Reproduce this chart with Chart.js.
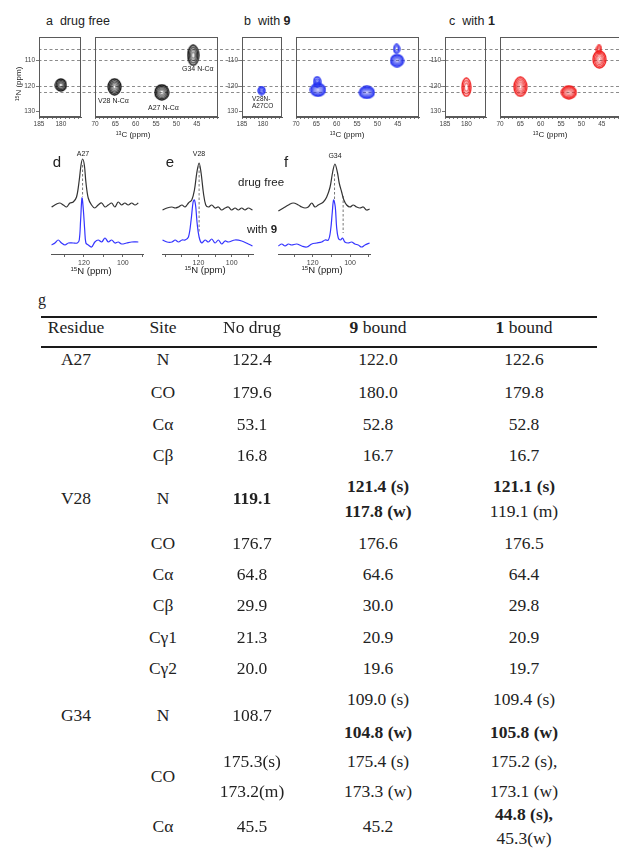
<!DOCTYPE html>
<html>
<head>
<meta charset="utf-8">
<script src="https://cdn.jsdelivr.net/npm/chart.js@4.4.1/dist/chart.umd.min.js"></script>
<style>
body { margin: 0; overflow: hidden; background: #fff; }
#fig { position: relative; width: 619px; height: 858px; overflow: hidden; font-family: "Liberation Sans", Arial, sans-serif; color: #222; }
#fig canvas { position: absolute; }
.t { position: absolute; white-space: nowrap; line-height: 1; transform: translate(-50%, -50%); }
.l { position: absolute; white-space: nowrap; line-height: 1; transform: translateY(-50%); }
.tab { font-family: "Liberation Serif", "Times New Roman", serif; font-size: 17.5px; color: #222; }
.rule { position: absolute; left: 41px; width: 556px; height: 2px; background: #1a1a1a; }
sup { font-size: 65%; vertical-align: 0; position: relative; top: -0.45em; }
</style>
</head>
<body>
<div id="fig">
  <!-- panel titles -->
  <div class="l" style="left:46px;top:21px;font-size:12.5px">a&nbsp; drug free</div>
  <div class="l" style="left:244px;top:21px;font-size:12.5px">b&nbsp; with <b>9</b></div>
  <div class="l" style="left:449px;top:21px;font-size:12.5px">c&nbsp; with <b>1</b></div>

  <canvas id="aL" width="68" height="101" style="left:20px;top:30px"></canvas>
  <canvas id="aR" width="137" height="101" style="left:88px;top:30px"></canvas>
  <canvas id="bL" width="66" height="101" style="left:223px;top:30px"></canvas>
  <canvas id="bR" width="137" height="101" style="left:289px;top:30px"></canvas>
  <canvas id="cL" width="67" height="101" style="left:426px;top:30px"></canvas>
  <canvas id="cR" width="137" height="101" style="left:493px;top:30px"></canvas>

  <div class="t" style="left:19px;top:84px;font-size:8px;transform:translate(-50%,-50%) rotate(-90deg)"><sup>15</sup>N (ppm)</div>
  <div class="t" style="left:133px;top:135px;font-size:8px"><sup>13</sup>C (ppm)</div>
  <div class="t" style="left:347px;top:135px;font-size:8px"><sup>13</sup>C (ppm)</div>
  <div class="t" style="left:550px;top:135px;font-size:8px"><sup>13</sup>C (ppm)</div>

  <div class="l" style="left:98px;top:100px;font-size:7px">V28 N-C&alpha;</div>
  <div class="l" style="left:148px;top:107px;font-size:7px">A27 N-C&alpha;</div>
  <div class="l" style="left:182px;top:68px;font-size:7px">G34 N-C&alpha;</div>
  <div class="l" style="left:252px;top:99px;font-size:6.5px">V28N-</div>
  <div class="l" style="left:252px;top:106px;font-size:6.5px">A27CO</div>

  <!-- 1D 15N slices -->
  <canvas id="d" width="98" height="123" style="left:48px;top:145px"></canvas>
  <canvas id="e" width="97" height="123" style="left:159px;top:145px"></canvas>
  <canvas id="f" width="98" height="123" style="left:275px;top:145px"></canvas>

  <div class="t" style="left:57px;top:161px;font-size:15px">d</div>
  <div class="t" style="left:170px;top:161px;font-size:15px">e</div>
  <div class="t" style="left:286px;top:161px;font-size:15px">f</div>
  <div class="t" style="left:83px;top:153px;font-size:7px">A27</div>
  <div class="t" style="left:199px;top:153px;font-size:7px">V28</div>
  <div class="t" style="left:335px;top:155px;font-size:7px">G34</div>
  <div class="l" style="left:238px;top:183px;font-size:11.5px">drug free</div>
  <div class="l" style="left:247px;top:230px;font-size:11.5px">with <b>9</b></div>
  <div class="t" style="left:91px;top:271px;font-size:9.5px"><sup>15</sup>N (ppm)</div>
  <div class="t" style="left:205px;top:270px;font-size:9.5px"><sup>15</sup>N (ppm)</div>
  <div class="t" style="left:322px;top:270px;font-size:9.5px"><sup>15</sup>N (ppm)</div>

  <!-- table g -->
  <div class="l tab" style="left:38px;top:300px;font-size:16px">g</div>
  <div class="rule" style="top:316px"></div>
  <div class="rule" style="top:346px"></div>
  <div id="tbl"></div>
</div>

<script>
// ---------- 2D N-C correlation spectra ----------
var coTickLabels = [185, 180];
var caTickLabels = [70, 65, 60, 55, 50, 45];
var nTickLabels = [110, 120, 130];
var dashN = [105.5, 109.7, 119.8, 122.2];

// peak centres, 13C ppm / 15N ppm
var aCoC = [180.0], aCoN = [119.6];
var aCaC = [65.2, 53.6, 45.9], aCaN = [120.3, 122.5, 107.9];
var bCoC = [180.3], bCoN = [121.8];
var bCaC = [64.6, 64.8, 52.6, 45.2, 45.3], bCaN = [121.5, 118.3, 122.5, 110.0, 105.4];
var cCoC = [180.0], cCoN = [120.5];
var cCaC = [65.0, 53.1, 45.6, 45.7], cCaN = [120.3, 122.5, 109.5, 105.6];

// contour footprint (px) for each peak above
var aCoSize = [[11, 12]], aCaSize = [[13, 16], [14, 15], [11, 20]];
var bCoSize = [[7, 8]], bCaSize = [[15, 13], [7, 10], [15, 12], [13, 12], [6, 9]];
var cCoSize = [[9, 18]], cCaSize = [[13, 19], [15, 13], [13, 17], [5, 8]];

// ---------- 1D 15N slices (ppm / intensity) ----------
var dTicks = [130, 120, 110, 100, 90], eTicks = [140, 130, 120, 110, 100, 90], fTicks = [130, 120, 110, 100, 90];
var specTickLabels = [120, 100];

var dFreePpm = [136.6, 134.0, 132.3, 130.6, 128.9, 127.2, 125.5, 123.8, 122.4, 121.5, 120.7, 119.8, 119.0, 117.8, 116.1, 114.4, 112.7, 110.9, 109.2, 107.5, 105.8, 104.1, 102.4, 100.7, 99.0, 97.3, 95.5, 93.8, 92.1];
var dFreeInt = [47, 50, 51, 49, 47, 51, 52, 57, 74, 89, 95, 89, 72, 56, 49, 46, 49, 51, 47, 49, 51, 47, 52, 49, 51, 49, 51, 49, 51];
var d9Ppm = [136.6, 134.9, 133.2, 131.5, 129.7, 128.0, 125.5, 123.4, 122.4, 121.7, 121.0, 120.3, 119.6, 119.0, 117.8, 116.1, 114.4, 112.7, 110.9, 109.2, 107.5, 105.8, 104.1, 102.4, 100.7, 98.1, 95.5, 92.1];
var d9Int = [9, 11, 14, 11, 9, 11, 11, 11, 14, 34, 56, 44, 24, 11, 9, 7, 12, 14, 12, 16, 12, 14, 11, 12, 10, 11, 12, 12];

var eFreePpm = [141.6, 138.9, 135.9, 134.0, 132.0, 129.9, 128.0, 126.0, 124.0, 122.4, 121.0, 119.6, 118.4, 117.0, 115.6, 114.0, 112.0, 110.0, 108.0, 106.0, 104.0, 102.0, 100.0, 98.0, 96.0, 94.0, 92.0, 90.0, 87.5];
var eFreeInt = [44, 46, 47, 46, 47, 49, 47, 51, 54, 64, 81, 91, 81, 61, 49, 47, 49, 46, 47, 44, 46, 47, 44, 46, 44, 46, 44, 46, 44];
var e9Ppm = [141.6, 138.9, 135.9, 134.0, 132.0, 129.9, 128.0, 126.0, 124.4, 123.2, 122.4, 121.6, 120.8, 119.6, 118.0, 116.0, 114.0, 112.0, 110.0, 108.0, 106.0, 104.0, 102.0, 98.0, 94.0, 90.0, 87.5];
var e9Int = [14, 12, 12, 14, 12, 14, 14, 17, 34, 52, 54, 47, 31, 17, 11, 14, 12, 15, 11, 14, 10, 13, 12, 14, 13, 10, 8];

var fFreePpm = [138.4, 135.7, 133.0, 130.4, 127.7, 125.9, 124.1, 122.4, 120.5, 118.8, 117.0, 114.3, 112.5, 110.7, 109.3, 108.1, 106.8, 105.8, 104.5, 103.3, 101.8, 100.0, 98.3, 96.5, 94.7, 92.9, 91.1, 89.5];
var fFreeInt = [43, 46, 49, 51, 49, 47, 46, 47, 51, 47, 49, 52, 57, 67, 82, 90, 82, 71, 62, 54, 49, 47, 49, 47, 46, 47, 44, 45];
var f9Ppm = [138.4, 136.6, 134.8, 133.0, 131.3, 128.6, 125.9, 123.2, 120.5, 117.9, 115.2, 113.4, 111.6, 110.4, 109.5, 108.8, 107.9, 107.2, 106.3, 105.1, 104.0, 102.8, 101.0, 99.2, 97.4, 95.6, 93.8, 92.0, 89.5];
var f9Int = [8, 10, 8, 10, 9, 10, 8, 7, 10, 11, 12, 14, 14, 24, 42, 54, 47, 27, 16, 14, 16, 12, 11, 12, 10, 9, 7, 9, 11];

// dashed guides linking the peaks
var dMarkPpm = [120.7], dMarkTop = [89], dMarkBot = [57];
var eMarkPpm = [119.6], eMarkTop = [88], eMarkBot = [22];
var fMarkPpm = [108.3, 103.7], fMarkTop = [80, 58], fMarkBot = [55, 21];

// ---------- table g ----------
var headers = ['Residue', 'Site', 'No drug', '<b>9</b> bound', '<b>1</b> bound'];
var residues = ['A27', '', '', '', 'V28', '', '', '', '', '', 'G34', '', ''];
var sites = ['N', 'CO', 'C\u03b1', 'C\u03b2', 'N', 'CO', 'C\u03b1', 'C\u03b2', 'C\u03b31', 'C\u03b32', 'N', 'CO', 'C\u03b1'];
var noDrug = [['122.4'], ['179.6'], ['53.1'], ['16.8'], ['*119.1'], ['176.7'], ['64.8'], ['29.9'], ['21.3'], ['20.0'], ['108.7'], ['175.3(s)', '173.2(m)'], ['45.5']];
var bound9 = [['122.0'], ['180.0'], ['52.8'], ['16.7'], ['*121.4 (s)', '*117.8 (w)'], ['176.6'], ['64.6'], ['30.0'], ['20.9'], ['19.6'], ['109.0 (s)', '*104.8 (w)'], ['175.4 (s)', '173.3 (w)'], ['45.2']];
var bound1 = [['122.6'], ['179.8'], ['52.8'], ['16.7'], ['*121.1 (s)', '119.1 (m)'], ['176.5'], ['64.4'], ['29.8'], ['20.9'], ['19.7'], ['109.4 (s)', '*105.8 (w)'], ['175.2 (s),', '173.1 (w)'], ['*44.8 (s),', '45.3(w)']];

// table layout
var colX = [76, 163, 252, 378, 524];
var headY = 328;
var rowY = [360, 393, 425, 456, 499, 544, 575, 606, 638, 669, 716, 777, 827];
var lineGap = [0, 0, 0, 0, 25, 0, 0, 0, 0, 0, 33, 30, 24];

Chart.defaults.font.family = '"Liberation Sans", Arial, sans-serif';
Chart.defaults.color = '#444';
Chart.defaults.animation = false;
Chart.defaults.events = [];

// stack of rings, dense at the rim and paler towards the centre
function contour(color, w, h) {
	var c = document.createElement('canvas');
	c.width = w + 2;
	c.height = h + 2;
	var g = c.getContext('2d');
	g.strokeStyle = color;
	g.lineWidth = 1.3;
	var step = 1.25, i = 0;
	while (w / 2 - i * step > 0.8) {
		var rx = w / 2 - i * step, ry = h / 2 - i * step * h / w;
		g.globalAlpha = Math.max(0.3, 1 - i * 0.14);
		g.beginPath();
		g.ellipse(c.width / 2, c.height / 2, rx, ry, 0, 0, 2 * Math.PI);
		g.stroke();
		i++;
	}
	return c;
}

var framePlugin = {
	id: 'frame',
	afterDraw: function(chart) {
		var a = chart.chartArea, x = chart.ctx;
		x.save();
		x.strokeStyle = '#5a5a5a';
		x.lineWidth = 1;
		x.strokeRect(Math.round(a.left) + 0.5, Math.round(a.top) + 0.5, Math.round(a.width) - 1, Math.round(a.height) - 1);
		x.restore();
	}
};

var guidePlugin = {
	id: 'guides',
	beforeDatasetsDraw: function(chart, args, opts) {
		var ctx = chart.ctx, ys = chart.scales.y;
		var x0 = opts.fromArea ? chart.chartArea.left : 0;
		ctx.save();
		ctx.strokeStyle = '#8c8c8c';
		ctx.lineWidth = 1;
		ctx.setLineDash([3, 2.5]);
		ctx.lineDashOffset = (chart.canvas.offsetLeft + x0) % 5.5;
		dashN.forEach(function(n) {
			var py = Math.round(ys.getPixelForValue(n)) + 0.5;
			ctx.beginPath();
			ctx.moveTo(x0, py);
			ctx.lineTo(chart.width, py);
			ctx.stroke();
		});
		ctx.restore();
	}
};

function minorTicks(lo, hi) {
	var out = [];
	for (var v = Math.ceil(lo); v <= hi; v++) out.push({ value: v });
	return out;
}

function box(id, xmin, xmax, labels, cs, ns, sizes, color, leftBox, padR, fromArea) {
	var pts = [], imgs = [];
	for (var i = 0; i < cs.length; i++) {
		pts.push({ x: cs[i], y: ns[i] });
		imgs.push(contour(color, sizes[i][0], sizes[i][1]));
	}
	return new Chart(document.getElementById(id), {
		type: 'scatter',
		data: { datasets: [{ data: pts, pointStyle: imgs, pointRadius: 6 }] },
		options: {
			responsive: false,
			devicePixelRatio: 1,
			layout: { padding: { left: 0, right: padR, top: 2, bottom: 0 } },
			plugins: { legend: { display: false }, tooltip: { enabled: false }, guides: { fromArea: fromArea } },
			scales: {
				x: {
					type: 'linear', min: xmin, max: xmax, reverse: true,
					afterBuildTicks: function(s) { s.ticks = minorTicks(xmin, xmax); },
					afterFit: function(s) { s.height = 14; s.paddingLeft = 0; s.paddingRight = 0; },
					ticks: {
						autoSkip: false, maxRotation: 0, padding: 1, color: '#444', font: { size: 6.5 },
						callback: function(v) { return labels.indexOf(v) >= 0 ? v : ''; }
					},
					grid: { drawOnChartArea: false, tickLength: 2, color: '#777' },
					border: { color: '#5a5a5a' }
				},
				y: {
					type: 'linear', min: 100.7, max: 132.2, reverse: true,
					afterBuildTicks: function(s) { s.ticks = nTickLabels.map(function(v) { return { value: v }; }); },
					afterFit: function(s) { s.width = leftBox ? 19 : 4; s.paddingTop = 0; s.paddingBottom = 0; },
					ticks: { display: leftBox, padding: 1, color: '#444', font: { size: 6.5 } },
					grid: { drawOnChartArea: false, drawTicks: leftBox, tickLength: 3, color: '#777' },
					border: { color: '#5a5a5a' }
				}
			}
		},
		plugins: [guidePlugin, framePlugin]
	});
}

box('aL', 175.4, 185, coTickLabels, aCoC, aCoN, aCoSize, '#151515', true, 5, true);
box('aR', 39.8, 70, caTickLabels, aCaC, aCaN, aCaSize, '#151515', false, 0, false);
box('bL', 175.4, 185, coTickLabels, bCoC, bCoN, bCoSize, '#1f2cf0', true, 2, false);
box('bR', 39.8, 70, caTickLabels, bCaC, bCaN, bCaSize, '#1f2cf0', false, 0, false);
box('cL', 175.4, 185, coTickLabels, cCoC, cCoN, cCoSize, '#f01c1c', true, 4, false);
box('cR', 39.8, 70, caTickLabels, cCaC, cCaN, cCaSize, '#f01c1c', false, 0, false);

function xy(xs, ys) {
	return xs.map(function(v, i) { return { x: v, y: ys[i] }; });
}

function spectrum(id, xmin, xmax, ticks, freePpm, freeInt, boundPpm, boundInt, markPpm, markTop, markBot) {
	var sets = [
		{ data: xy(freePpm, freeInt), borderColor: '#333', borderWidth: 1.2, tension: 0.35 },
		{ data: xy(boundPpm, boundInt), borderColor: '#3535ff', borderWidth: 1.2, tension: 0.35 }
	];
	markPpm.forEach(function(p, i) {
		sets.push({ data: [{ x: p, y: markTop[i] }, { x: p, y: markBot[i] }], borderColor: '#777', borderWidth: 1, borderDash: [2.5, 2] });
	});
	sets.forEach(function(s) { s.showLine = true; s.pointRadius = 0; s.clip = false; });
	return new Chart(document.getElementById(id), {
		type: 'scatter',
		data: { datasets: sets },
		options: {
			responsive: false,
			devicePixelRatio: 1,
			layout: { padding: { left: 3, right: 3, top: 0, bottom: 0 } },
			plugins: { legend: { display: false }, tooltip: { enabled: false } },
			scales: {
				x: {
					type: 'linear', min: xmin, max: xmax, reverse: true,
					afterBuildTicks: function(s) { s.ticks = ticks.map(function(v) { return { value: v }; }); },
					afterFit: function(s) { s.height = 14; s.paddingLeft = 0; s.paddingRight = 0; },
					ticks: {
						autoSkip: false, maxRotation: 0, padding: 2, color: '#444', font: { size: 7 },
						callback: function(v) { return specTickLabels.indexOf(v) >= 0 ? v : ''; }
					},
					grid: { drawOnChartArea: false, tickLength: 3, color: '#666' },
					border: { color: '#555' }
				},
				y: { display: false, min: 0, max: 109 }
			}
		}
	});
}

spectrum('d', 89.7, 136.9, dTicks, dFreePpm, dFreeInt, d9Ppm, d9Int, dMarkPpm, dMarkTop, dMarkBot);
spectrum('e', 87.2, 141.9, eTicks, eFreePpm, eFreeInt, e9Ppm, e9Int, eMarkPpm, eMarkTop, eMarkBot);
spectrum('f', 89.3, 138.6, fTicks, fFreePpm, fFreeInt, f9Ppm, f9Int, fMarkPpm, fMarkTop, fMarkBot);

// table
function cell(s) {
	return s.charAt(0) === '*' ? '<b>' + s.slice(1) + '</b>' : s;
}
var html = '';
function put(x, y, s) {
	html += '<div class="t tab" style="left:' + x + 'px;top:' + y + 'px">' + s + '</div>';
}
headers.forEach(function(h, i) { put(colX[i], headY, h); });
rowY.forEach(function(y, r) {
	if (residues[r]) put(colX[0], y, residues[r]);
	put(colX[1], y, sites[r]);
	[noDrug[r], bound9[r], bound1[r]].forEach(function(lines, c) {
		var y0 = y - lineGap[r] * (lines.length - 1) / 2;
		lines.forEach(function(s, j) { put(colX[c + 2], y0 + j * lineGap[r], cell(s)); });
	});
});
document.getElementById('tbl').innerHTML = html;
</script>
</body>
</html>
